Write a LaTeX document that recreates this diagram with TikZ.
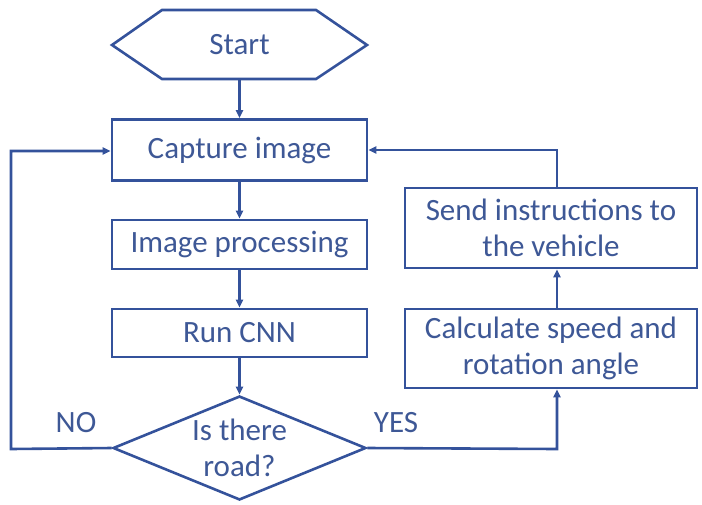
\documentclass[tikz,border=0pt]{standalone}
\usepackage{fontspec}
\setmainfont{Carlito}
\usetikzlibrary{arrows.meta,shapes.geometric}
\definecolor{fc}{RGB}{52,82,155}
\definecolor{tc}{RGB}{62,88,150}
\begin{document}
\begin{tikzpicture}[x=1pt,y=-1pt,
  every node/.style={text=tc,font=\fontsize{31}{36}\selectfont},
  box/.style={draw=fc,line width=2.6pt,minimum width=255pt,inner sep=0pt,align=center},
  conn/.style={draw=fc,line width=2.6pt,-{Triangle[length=8pt,width=7pt]}},
  plain/.style={draw=fc,line width=2.6pt}]
\path[use as bounding box] (0,0) rectangle (702,504);
% Start hexagon
\draw[fc,line width=2.6pt] (112,45) -- (162,10) -- (316,10) -- (367,45) -- (316,79) -- (162,79) -- cycle;
\node (start) at (239.5,45) {Start};
\coordinate (startb) at (239.5,79);
\node[box,minimum height=61pt] (cap) at (239.5,150) {Capture image};
\node[box,minimum height=49pt] (imp) at (239.5,244.5) {Image processing};
\node[box,minimum height=48pt] (cnn) at (239.5,333) {Run CNN};
\node[draw=fc,line width=2.6pt,diamond,aspect=2.43,minimum width=253pt,minimum height=104pt,inner sep=0pt,align=center] (dec) at (239.5,448) {Is there\\road?};
\node[box,minimum width=292pt,minimum height=79pt] (calc) at (551,348.5) {Calculate speed and\\rotation angle};
\node[box,minimum width=292pt,minimum height=80pt] (send) at (551,228) {Send instructions to\\the vehicle};
\node (no) at (76,423) {NO};
\node (yes) at (396,423) {YES};
\coordinate (lc) at (11,449);
\coordinate (lt) at (11,151);
\coordinate (rc) at (557,449);
\coordinate (rt) at (557,150);
\draw[conn] (startb) -- (cap);
\draw[conn] (cap) -- (imp);
\draw[conn] (imp) -- (cnn);
\draw[conn] (cnn) -- (dec);
\draw[conn] (dec.west) -- (lc) -- (lt) -- (cap.west |- lt);
\draw[conn] (dec.east) -- (rc) -- (calc.south -| rc);
\draw[conn] (calc.north -| rc) -- (send.south -| rc);
\draw[conn] (send.north -| rt) -- (rt) -- (cap.east |- rt);
\end{tikzpicture}
\end{document}
